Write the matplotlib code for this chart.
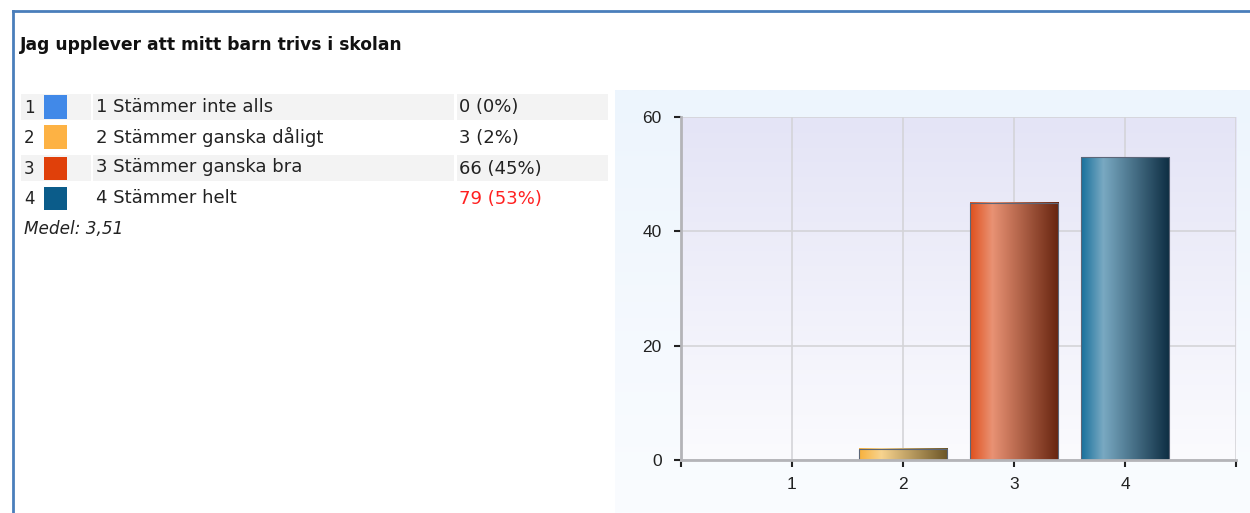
import numpy as np
import matplotlib
matplotlib.use("Agg")
import matplotlib.pyplot as plt
from matplotlib.patches import Rectangle
from matplotlib.lines import Line2D
from matplotlib.colors import LinearSegmentedColormap

plt.rcParams["font.family"] = ["DejaVu Sans"]

# ---- data ----
title = "Jag upplever att mitt barn trivs i skolan"
categories = [1, 2, 3, 4]
labels = ["1 Stämmer inte alls", "2 Stämmer ganska dåligt",
          "3 Stämmer ganska bra", "4 Stämmer helt"]
counts = [0, 3, 66, 79]
percents = [0, 2, 45, 53]
mean_text = "Medel: 3,51"
swatch_colors = ["#4189e8", "#fdb244", "#e0400a", "#0b5c8a"]
bar_gradients = [
    ["#4189e8", "#9cc3f5", "#1d3f6e"],
    ["#f7b13c", "#f8d48f", "#6b5526"],
    ["#e0501c", "#e99274", "#66240f"],
    ["#17709c", "#79a9c2", "#0d2d42"],
]
yticks = [0, 20, 40, 60]

W, H = 1250, 513
fig = plt.figure(figsize=(W / 100, H / 100), dpi=100)
fig.patch.set_facecolor("white")


def fx(x):
    return x / W


def fy(y):
    return 1 - y / H


def rect(x0, y0, x1, y1, color, z=0):
    fig.patches.append(Rectangle((fx(x0), fy(y1)), fx(x1) - fx(x0), fy(y0) - fy(y1),
                                 transform=fig.transFigure, facecolor=color,
                                 edgecolor="none", zorder=z))


# border lines
fig.add_artist(Line2D([fx(12.5), fx(12.5)], [fy(10.5), fy(513)], transform=fig.transFigure,
                      color="#4a7ebb", lw=2.0))
fig.add_artist(Line2D([fx(12.5), fx(1250)], [fy(10.5), fy(10.5)], transform=fig.transFigure,
                      color="#4a7ebb", lw=2.0))

# title
fig.text(fx(20), fy(45), title, fontsize=12.3, fontweight="bold",
         color="#111111", va="center", ha="left")

# table
row_y = [(94, 120), (124, 150), (155, 181), (185, 211)]
for i, (y0, y1) in enumerate(row_y):
    bg = "#f3f3f3" if i % 2 == 0 else "#ffffff"
    rect(21, y0, 91, y1, bg)
    rect(93, y0, 454, y1, bg)
    rect(457, y0, 608, y1, bg)
    rect(43.5, y0 + 1.5, 67, y1 - 1.5, swatch_colors[i], z=1)
    yc = (y0 + y1) / 2 + 0.5
    fig.text(fx(24), fy(yc + 0.5), str(categories[i]), fontsize=12, color="#222222",
             va="center", ha="left")
    fig.text(fx(96), fy(yc - 1), labels[i], fontsize=13, color="#222222",
             va="center", ha="left")
    vcol = "#ff2020" if counts[i] == max(counts) else "#222222"
    fig.text(fx(459), fy(yc), f"{counts[i]} ({percents[i]}%)", fontsize=13, color=vcol,
             va="center", ha="left")

fig.text(fx(24), fy(229), mean_text, fontsize=12.2, style="italic", color="#222222",
         va="center", ha="left")

# chart panel background gradient
panel = fig.add_axes([fx(615), 0, 1 - fx(615), fy(90)])
panel.set_axis_off()
panel_cmap = LinearSegmentedColormap.from_list("p", ["#fafcff", "#edf5fd"])
panel.imshow(np.linspace(0, 1, 256).reshape(-1, 1), cmap=panel_cmap, aspect="auto",
             origin="lower", extent=[0, 1, 0, 1])
panel.set_xlim(0, 1)
panel.set_ylim(0, 1)

# plot axes
ax = fig.add_axes([fx(681), fy(460), fx(1236) - fx(681), fy(117) - fy(460)])
ax.set_xlim(0, 5)
ax.set_ylim(0, 60)
bg_cmap = LinearSegmentedColormap.from_list("bg", ["#fbfbfe", "#e4e4f6"])
ax.imshow(np.linspace(0, 1, 256).reshape(-1, 1), cmap=bg_cmap, aspect="auto",
          origin="lower", extent=[0, 5, 0, 60], zorder=0)

bars = ax.bar(categories, percents, width=0.8, color="none", edgecolor="#5c6678",
              linewidth=0.8, zorder=3)
for b, stops in zip(bars, bar_gradients):
    if b.get_height() <= 0:
        continue
    cmap = LinearSegmentedColormap.from_list("g", [(0, stops[0]), (0.25, stops[1]),
                                                   (1, stops[2])])
    x0 = b.get_x()
    ax.imshow(np.linspace(0, 1, 256).reshape(1, -1), cmap=cmap, aspect="auto",
              extent=[x0, x0 + b.get_width(), 0, b.get_height()], zorder=2)

ax.set_xlim(0, 5)
ax.set_ylim(0, 60)
ax.set_xticks([0, 1, 2, 3, 4, 5])
ax.set_xticklabels(["", "1", "2", "3", "4", ""])
ax.set_yticks(yticks)
ax.set_yticklabels([str(v) for v in yticks])
ax.set_axisbelow(True)
ax.grid(True, color="#d4d4d8", lw=1.2, zorder=1)
for s in ["top", "right"]:
    ax.spines[s].set_visible(False)
for s in ["left", "bottom"]:
    ax.spines[s].set_color("#b4b4b8")
    ax.spines[s].set_linewidth(2)
    ax.spines[s].set_zorder(4)
ax.tick_params(axis="both", direction="out", length=5, width=1.5, color="#222222",
               labelsize=12.5, labelcolor="#222222", pad=9)
for t in ax.get_xticklabels() + ax.get_yticklabels():
    t.set_family(["Liberation Sans Narrow", "Liberation Sans", "DejaVu Sans"])
ax.tick_params(axis="x", pad=7)

fig.savefig("out.png", dpi=100)
